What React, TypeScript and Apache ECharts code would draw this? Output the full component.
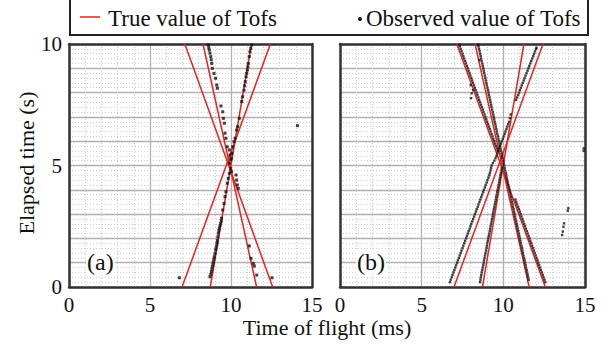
import React, { useEffect, useRef } from "react";
import * as echarts from "echarts";

// True value of Tofs: each line as [Tof (ms), elapsed time (s)] endpoints
const trueLines: number[][][] = [
  [[6.98, 0], [12.43, 10]],
  [[8.72, 0], [11.26, 10]],
  [[12.57, 0], [7.15, 10]],
  [[11.58, 0], [8.27, 10]],
];

// Observed values, panel (a): [Tof (ms), elapsed time (s)]
const observedA: number[][] = [
  [8.60, 9.96], [8.63, 9.85], [8.66, 9.75], [8.70, 9.62], [8.75, 9.48], [8.78, 9.35], [8.81, 9.2],
  [8.85, 9.0], [8.95, 8.79], [9.05, 8.59], [9.12, 8.31], [9.16, 8.18], [9.38, 7.45], [9.49, 7.21],
  [9.53, 6.94], [9.59, 6.74], [9.63, 6.33], [9.69, 6.12], [9.77, 5.77], [9.90, 5.64], [9.94, 5.43],
  [9.98, 5.23],
  [11.28, 9.96], [11.22, 9.82], [11.17, 9.68], [11.13, 9.48], [11.07, 9.2], [11.04, 9.06],
  [11.01, 8.93], [10.97, 8.79], [10.93, 8.65], [10.88, 8.45], [10.84, 8.28], [10.80, 8.1],
  [10.72, 7.83], [10.66, 7.63], [10.51, 6.94], [10.41, 6.6], [10.35, 6.46], [10.25, 6.12],
  [10.19, 5.98], [10.1, 5.77], [10.06, 5.5], [10.02, 5.3],
  [9.9, 5.09], [9.98, 4.88], [10.04, 4.75], [10.31, 4.61], [10.35, 4.4], [10.39, 4.2], [10.45, 4.06],
  [9.9, 4.68], [9.83, 4.47], [9.77, 4.27], [9.69, 3.92], [9.63, 3.72], [9.57, 3.44], [9.49, 3.17],
  [9.42, 2.83], [9.40, 2.72], [9.36, 2.62], [9.32, 2.52], [9.28, 2.42], [9.25, 2.32], [9.22, 2.21],
  [9.19, 2.07], [9.16, 1.93], [9.14, 1.83], [9.12, 1.73], [9.08, 1.62], [9.05, 1.52], [9.01, 1.38],
  [8.97, 1.25], [8.94, 1.15], [8.91, 1.04], [8.88, 0.94], [8.85, 0.84], [8.82, 0.73], [8.79, 0.63],
  [8.75, 0.52], [8.70, 0.42],
  [11.13, 1.69], [11.23, 1.18], [11.38, 0.97], [11.44, 0.86], [11.59, 0.49],
  [6.81, 0.38], [12.53, 0.38], [14.1, 6.64],
];

// Observed values, panel (b)
const observedB1: number[][] = [
  [6.73, 0.2], [6.78, 0.3], [6.84, 0.4], [6.89, 0.5], [6.95, 0.6], [7.00, 0.7], [7.06, 0.8],
  [7.11, 0.9], [7.17, 1.0], [7.22, 1.1], [7.28, 1.2], [7.33, 1.3], [7.39, 1.4], [7.44, 1.5],
  [7.50, 1.6], [7.55, 1.7], [7.61, 1.8], [7.66, 1.9], [7.72, 2.0], [7.77, 2.1], [7.83, 2.2],
  [7.88, 2.3], [7.94, 2.4], [7.99, 2.5], [8.04, 2.6], [8.10, 2.7], [8.15, 2.8], [8.21, 2.9],
  [8.26, 3.0], [8.32, 3.1], [8.37, 3.2], [8.43, 3.3], [8.48, 3.4], [8.54, 3.5], [8.59, 3.6],
  [8.65, 3.7], [8.70, 3.8], [8.76, 3.9], [8.81, 4.0], [8.87, 4.1], [8.92, 4.2], [8.98, 4.3],
  [9.03, 4.4], [9.09, 4.5], [9.14, 4.6], [9.18, 4.7], [9.22, 4.8], [9.25, 4.9], [9.28, 5.0],
  [9.36, 5.1], [9.45, 5.2], [9.52, 5.3], [9.58, 5.4], [9.64, 5.5], [9.69, 5.6], [9.75, 5.7],
  [9.80, 5.8], [9.86, 5.9], [9.91, 6.0], [9.97, 6.1], [10.02, 6.2], [10.08, 6.3], [10.13, 6.4],
  [10.19, 6.5], [10.24, 6.6], [10.30, 6.7], [10.35, 6.8], [10.40, 6.95], [10.45, 7.1],
  [10.78, 7.7], [10.84, 7.8], [10.90, 7.9], [10.96, 8.0], [11.01, 8.1], [11.07, 8.2], [11.13, 8.3],
  [11.19, 8.4], [11.25, 8.5], [11.30, 8.6], [11.36, 8.7], [11.42, 8.8], [11.48, 8.9], [11.54, 9.0],
  [11.59, 9.1], [11.65, 9.2], [11.71, 9.3], [11.77, 9.4], [11.83, 9.5], [11.88, 9.6], [11.94, 9.7],
  [12.00, 9.8], [12.03, 9.85],
];
const observedB2: number[][] = [
  [9.66, 5.6], [9.60, 5.7], [9.55, 5.8], [9.49, 5.9], [9.44, 6.0], [9.39, 6.1], [9.33, 6.2],
  [9.28, 6.3], [9.22, 6.4], [9.17, 6.5], [9.12, 6.6], [9.06, 6.7], [9.01, 6.8], [8.95, 6.9],
  [8.90, 7.0], [8.85, 7.1], [8.79, 7.2], [8.74, 7.3], [8.68, 7.4], [8.63, 7.5], [8.58, 7.6],
  [8.52, 7.7], [8.47, 7.8], [8.41, 7.9], [8.36, 8.0], [8.31, 8.1], [8.25, 8.2], [8.20, 8.3],
  [8.14, 8.4], [8.09, 8.5], [8.04, 8.6], [7.98, 8.7], [7.93, 8.8], [7.87, 8.9], [7.82, 9.0],
  [7.77, 9.1], [7.71, 9.2], [7.66, 9.3], [7.60, 9.4], [7.55, 9.5], [7.50, 9.6], [7.44, 9.7],
  [7.39, 9.8], [7.33, 9.9], [7.30, 9.97],
  [12.57, 0.2], [12.52, 0.3], [12.46, 0.4], [12.41, 0.5], [12.36, 0.6], [12.30, 0.7], [12.25, 0.8],
  [12.19, 0.9], [12.14, 1.0], [12.09, 1.1], [12.03, 1.2], [11.98, 1.3], [11.92, 1.4], [11.87, 1.5],
  [11.82, 1.6], [11.76, 1.7], [11.71, 1.8], [11.65, 1.9], [11.60, 2.0], [11.55, 2.1], [11.49, 2.2],
  [11.44, 2.3], [11.38, 2.4], [11.33, 2.5], [11.28, 2.6], [11.22, 2.7], [11.17, 2.8], [11.11, 2.9],
  [11.06, 3.0], [11.01, 3.1], [10.95, 3.2], [10.90, 3.3], [10.84, 3.4], [10.79, 3.5], [10.74, 3.6],
];
const observedB3: number[][] = [
  [11.55, 0.3], [11.52, 0.4], [11.49, 0.5], [11.46, 0.6], [11.43, 0.7], [11.39, 0.8], [11.36, 0.9],
  [11.33, 1.0], [11.30, 1.1], [11.27, 1.2], [11.23, 1.3], [11.20, 1.4], [11.17, 1.5], [11.14, 1.6],
  [11.11, 1.7], [11.07, 1.8], [11.04, 1.9], [11.01, 2.0], [10.98, 2.1], [10.95, 2.2], [10.91, 2.3],
  [10.88, 2.4], [10.85, 2.5], [10.82, 2.6], [10.79, 2.7], [10.75, 2.8], [10.72, 2.9], [10.69, 3.0],
  [10.66, 3.1], [10.63, 3.2], [10.59, 3.3], [10.56, 3.4], [10.53, 3.5], [10.50, 3.6], [10.47, 3.7],
  [10.43, 3.8], [10.40, 3.9], [10.37, 4.0], [10.34, 4.1], [10.31, 4.2], [10.27, 4.3], [10.24, 4.4],
  [10.21, 4.5], [10.18, 4.6], [10.15, 4.7], [10.11, 4.8], [10.08, 4.9], [10.05, 5.0], [10.02, 5.1],
  [9.99, 5.2], [9.95, 5.3], [9.92, 5.4], [9.89, 5.5], [9.86, 5.6], [9.83, 5.7], [9.79, 5.8],
  [9.76, 5.9], [9.73, 6.0], [9.70, 6.1], [9.67, 6.2], [9.63, 6.3], [9.60, 6.4], [9.57, 6.5],
  [9.54, 6.6], [9.51, 6.7], [9.47, 6.8], [9.44, 6.9], [9.41, 7.0], [9.38, 7.1], [9.35, 7.2],
  [9.31, 7.3], [9.28, 7.4], [9.25, 7.5], [9.22, 7.6], [9.19, 7.7], [9.15, 7.8], [9.12, 7.9],
  [9.09, 8.0], [9.06, 8.1], [9.03, 8.2], [8.99, 8.3], [8.96, 8.4], [8.93, 8.5], [8.90, 8.6],
  [8.87, 8.7], [8.83, 8.8], [8.80, 8.9], [8.77, 9.0], [8.74, 9.1], [8.71, 9.2], [8.67, 9.3],
  [8.64, 9.4], [8.61, 9.5], [8.58, 9.6], [8.55, 9.7], [8.51, 9.8], [8.48, 9.9], [8.46, 9.97],
];
const observedB4: number[][] = [
  [8.57, 0.2], [8.60, 0.3], [8.62, 0.4], [8.65, 0.5], [8.68, 0.6], [8.71, 0.7], [8.74, 0.8],
  [8.77, 0.9], [8.80, 1.0], [8.82, 1.1], [8.85, 1.2], [8.88, 1.3], [8.91, 1.4], [8.94, 1.5],
  [8.97, 1.6], [8.99, 1.7], [9.02, 1.8], [9.05, 1.9], [9.08, 2.0], [9.11, 2.1], [9.14, 2.2],
  [9.17, 2.3], [9.19, 2.4], [9.22, 2.5], [9.25, 2.6], [9.28, 2.7], [9.31, 2.8], [9.34, 2.9],
  [9.37, 3.0], [9.39, 3.1], [9.42, 3.2], [9.45, 3.3], [9.48, 3.4], [9.51, 3.5], [9.54, 3.6],
  [9.56, 3.7], [9.59, 3.8], [9.62, 3.9], [9.65, 4.0], [9.68, 4.1], [9.71, 4.2], [9.74, 4.3],
  [9.76, 4.4], [9.79, 4.5], [9.82, 4.6], [9.85, 4.7], [9.88, 4.8], [9.91, 4.9],
];
const observedBScatter: number[][] = [
  [8.0, 8.31], [8.06, 7.97], [8.02, 7.77], [8.16, 8.1], [8.53, 9.34],
  [14.92, 5.7], [14.92, 5.6], [13.98, 3.24], [13.94, 3.14], [13.72, 2.62], [13.68, 2.48],
  [13.64, 2.28], [13.6, 2.14],
];

const xTicks = [0, 5, 10, 15];
const yTickLabels = [0, 5, 10];

const FONT = '"Liberation Serif", "Times New Roman", serif';
const RED = "#e8221c";
const FRAME = "#333333";

export default function App() {
  const ref = useRef<HTMLDivElement>(null);
  useEffect(() => {
    document.body.style.margin = "0";
    const chart = echarts.init(ref.current!, undefined, { renderer: "svg" });

    const grids = [
      { left: 69, top: 44, width: 243, height: 243 },
      { left: 340, top: 44, width: 245, height: 243 },
    ];

    const xAxes: any[] = [];
    const yAxes: any[] = [];
    grids.forEach((_, gi) => {
      xAxes.push({
        type: "value",
        gridIndex: gi,
        position: "bottom",
        min: xTicks[0],
        max: xTicks[xTicks.length - 1],
        interval: 5,
        axisLine: { show: true, onZero: false, lineStyle: { color: FRAME, width: 2.5 } },
        axisTick: { show: false },
        axisLabel: {
          show: true,
          margin: 7,
          fontFamily: FONT,
          fontSize: 21,
          color: "#111",
          formatter: (v: number) => (xTicks.includes(v) ? String(v) : ""),
        },
        splitLine: { show: true, lineStyle: { color: "#b5b0b0", width: 1.3 } },
        minorTick: { show: false, splitNumber: 5 },
        minorSplitLine: { show: true, lineStyle: { color: "#cccccc", width: 1, type: [1, 2] } },
      });
      xAxes.push({
        type: "value",
        gridIndex: gi,
        position: "top",
        min: 0,
        max: 15,
        interval: 5,
        axisLine: { show: true, onZero: false, lineStyle: { color: FRAME, width: 2.5 } },
        axisTick: { show: false },
        axisLabel: { show: false },
        splitLine: { show: false },
      });
      yAxes.push({
        type: "value",
        gridIndex: gi,
        position: "left",
        min: 0,
        max: 10,
        interval: 1,
        axisLine: { show: true, onZero: false, lineStyle: { color: FRAME, width: 2.5 } },
        axisTick: { show: false },
        axisLabel: {
          show: gi === 0,
          margin: 7,
          fontFamily: FONT,
          fontSize: 21,
          color: "#111",
          formatter: (v: number) => (yTickLabels.includes(v) ? String(v) : ""),
        },
        splitLine: { show: true, lineStyle: { color: "#b5b0b0", width: 1.3 } },
        minorTick: { show: false, splitNumber: 5 },
        minorSplitLine: { show: true, lineStyle: { color: "#d0d0d0", width: 1, type: [1, 2] } },
      });
      yAxes.push({
        type: "value",
        gridIndex: gi,
        position: "right",
        min: 0,
        max: 10,
        interval: 1,
        axisLine: { show: true, onZero: false, lineStyle: { color: FRAME, width: 2.5 } },
        axisTick: { show: false },
        axisLabel: { show: false },
        splitLine: { show: false },
      });
    });

    const series: any[] = [];
    const addPanel = (xi: number, yi: number, obs: number[][][], size: number) => {
      trueLines.forEach((ln) => {
        series.push({
          type: "line",
          xAxisIndex: xi,
          yAxisIndex: yi,
          data: ln,
          symbol: "none",
          lineStyle: { color: RED, width: 1.5 },
          z: 3,
        });
      });
      obs.forEach((d) => {
        series.push({
          type: "scatter",
          xAxisIndex: xi,
          yAxisIndex: yi,
          data: d,
          symbol: "rect",
          symbolSize: size,
          itemStyle: { color: "#111" },
          z: 4,
        });
      });
    };
    addPanel(0, 0, [observedA], 3);
    addPanel(2, 2, [observedB1, observedB2, observedB3, observedB4, observedBScatter], 2.4);

    const textStyle = (text: string, size: number, extra: any = {}) => ({
      text,
      font: `${size}px ${FONT}`,
      fill: "#111",
      ...extra,
    });

    chart.setOption({
      animation: false,
      backgroundColor: "#fff",
      grid: grids.map((g) => ({ ...g, containLabel: false })),
      xAxis: xAxes,
      yAxis: yAxes,
      series,
      graphic: [
        {
          type: "rect",
          shape: { x: 70, y: -1, width: 518, height: 36 },
          style: { fill: "#fff", stroke: "#222", lineWidth: 2 },
          z: 10,
        },
        {
          type: "line",
          shape: { x1: 80, y1: 17, x2: 100, y2: 17 },
          style: { stroke: RED, lineWidth: 1.5 },
          z: 11,
        },
        {
          type: "text",
          x: 108,
          y: 18,
          style: textStyle("True value of Tofs", 23, { textAlign: "left", textVerticalAlign: "middle" }),
          z: 11,
        },
        {
          type: "circle",
          shape: { cx: 360, cy: 19, r: 2 },
          style: { fill: "#111" },
          z: 11,
        },
        {
          type: "text",
          x: 366,
          y: 18,
          style: textStyle("Observed value of Tofs", 23, { textAlign: "left", textVerticalAlign: "middle" }),
          z: 11,
        },
        {
          type: "text",
          x: 86,
          y: 262,
          style: textStyle("(a)", 24, {
            textAlign: "left",
            textVerticalAlign: "middle",
            backgroundColor: "#fff",
            padding: [0, 1],
          }),
          z: 12,
        },
        {
          type: "text",
          x: 356,
          y: 262,
          style: textStyle("(b)", 24, {
            textAlign: "left",
            textVerticalAlign: "middle",
            backgroundColor: "#fff",
            padding: [0, 1],
          }),
          z: 12,
        },
        {
          type: "text",
          x: 327,
          y: 327,
          style: textStyle("Time of flight (ms)", 22, { textAlign: "center", textVerticalAlign: "middle" }),
          z: 11,
        },
        {
          type: "text",
          x: 26,
          y: 163,
          rotation: Math.PI / 2,
          style: textStyle("Elapsed time (s)", 22, { textAlign: "center", textVerticalAlign: "middle" }),
          z: 11,
        },
      ],
    });
    return () => chart.dispose();
  }, []);
  return <div ref={ref} style={{ width: 615, height: 347 }} />;
}
